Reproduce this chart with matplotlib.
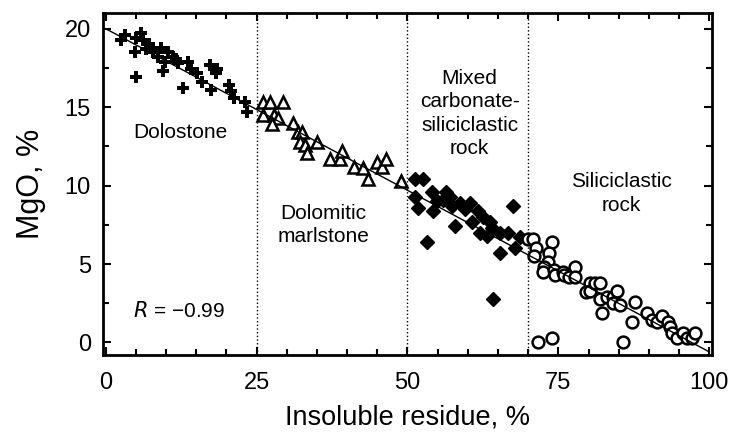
import matplotlib.pyplot as plt
from matplotlib.ticker import MultipleLocator

plt.rcParams['font.family'] = ['Liberation Sans', 'DejaVu Sans']

# Dolostone (+)
dolo_x = [3.2, 2.6, 5.9, 5.0, 6.2, 4.9, 6.7, 7.8, 9.1, 10.3, 8.6, 9.8, 11.1, 9.5,
          5.0, 11.9, 13.6, 14.1, 12.8, 15.2, 16.0, 17.2, 18.2, 17.4, 18.5, 20.5,
          20.7, 21.3, 23.1, 23.4, 7.1, 11.6]
dolo_y = [19.6, 19.3, 19.7, 19.4, 19.3, 18.5, 18.7, 18.5, 18.8, 18.5, 18.2, 17.9,
          18.2, 17.3, 16.9, 17.8, 17.9, 17.4, 16.2, 17.2, 16.6, 17.7, 17.2, 16.1,
          17.4, 16.4, 16.0, 15.6, 15.3, 14.7, 19.0, 18.1]

# Dolomitic marlstone (open triangles)
marl_x = [26.1, 27.3, 29.4, 26.1, 27.8, 28.6, 27.6, 31.0, 31.9, 32.5, 32.2, 33.0,
          33.4, 35.0, 37.1, 38.8, 39.1, 41.2, 42.6, 43.4, 44.9, 45.7, 46.5, 49.0]
marl_y = [15.3, 15.3, 15.3, 14.5, 14.5, 14.3, 13.9, 14.0, 13.4, 13.4, 12.8, 12.6,
          12.1, 12.8, 11.7, 11.7, 12.2, 11.2, 11.1, 10.4, 11.5, 11.2, 11.7, 10.3]

# Mixed carbonate-siliciclastic rock (filled diamonds)
mix_x = [51.3, 52.5, 51.3, 51.8, 54.1, 54.3, 55.8, 57.1, 57.4, 58.7, 57.9, 60.4,
         60.7, 61.7, 62.5, 62.0, 63.2, 64.0, 65.3, 66.6, 65.3, 67.8, 67.4, 53.3,
         64.1, 54.9, 56.3, 59.5, 63.7, 68.6]
mix_y = [10.4, 10.4, 9.3, 8.6, 9.6, 8.4, 9.1, 9.3, 8.7, 8.9, 7.4, 8.9,
         7.7, 8.4, 8.0, 7.0, 6.8, 7.3, 7.0, 7.0, 5.7, 6.0, 8.7, 6.4,
         2.8, 9.0, 9.6, 8.5, 7.7, 6.7]

# Siliciclastic rock (open circles)
sili_x = [69.9, 70.8, 71.3, 70.9, 74.0, 73.4, 73.2, 72.6, 72.4, 74.2, 74.5, 75.7,
          75.9, 76.7, 77.8, 77.8, 79.5, 80.3, 80.3, 81.1, 81.9, 81.9, 83.1, 82.3,
          84.1, 84.1, 84.7, 85.2, 87.7, 87.2, 89.7, 90.5, 91.3, 92.1, 93.1, 93.5,
          93.8, 94.6, 95.6, 96.3, 97.2, 97.6, 71.6, 74.0, 85.7]
sili_y = [6.6, 6.6, 6.0, 5.5, 6.4, 5.7, 5.1, 4.8, 4.5, 4.6, 4.3, 4.5,
          4.3, 4.2, 4.8, 4.2, 3.2, 3.8, 3.3, 3.8, 3.8, 2.8, 2.9, 1.9,
          2.9, 2.5, 3.3, 2.4, 2.6, 1.3, 1.9, 1.4, 1.3, 1.7, 1.3, 1.0,
          0.6, 0.3, 0.6, 0.3, 0.3, 0.6, 0.0, 0.3, 0.0]

# regression line and class boundaries
fit_x = [0, 100]
fit_y = [20.0, -0.6]
bounds = [25, 50, 70]


def main():
    fig = plt.figure(figsize=(7.31, 4.34), dpi=100)
    ax = fig.add_axes([0.1413, 0.182, 0.8323, 0.788])

    for b in bounds:
        ax.axvline(b, color='black', linestyle=':', linewidth=1)

    ax.plot(dolo_x, dolo_y, 'P', color='black', markersize=9,
            markeredgewidth=0, linestyle='none', zorder=3)
    ax.plot(marl_x, marl_y, '^', markerfacecolor='white', markeredgecolor='black',
            markersize=9, markeredgewidth=1.8, linestyle='none', zorder=3)
    ax.plot(mix_x, mix_y, 'D', color='black', markersize=7.3,
            linestyle='none', zorder=3)
    ax.plot(sili_x, sili_y, 'o', markerfacecolor='white', markeredgecolor='black',
            markersize=8.5, markeredgewidth=1.8, linestyle='none', zorder=3)
    ax.plot(fit_x, fit_y, color='black', linewidth=1, zorder=4)

    fs = 15
    ax.text(12.3, 13.4, 'Dolostone', fontsize=fs, ha='center', va='center')
    ax.text(36.1, 7.5, 'Dolomitic\nmarlstone', fontsize=fs, ha='center',
            va='center', linespacing=1.25)
    ax.text(60.3, 14.6, 'Mixed\ncarbonate-\nsiliciclastic\nrock', fontsize=fs,
            ha='center', va='center', linespacing=1.3)
    ax.text(85.5, 9.5, 'Siliciclastic\nrock', fontsize=fs, ha='center',
            va='center', linespacing=1.3)
    ax.text(4.5, 2.0, '$R$ = \u22120.99', fontsize=fs, ha='left', va='center')

    ax.set_xlim(-0.4, 100.4)
    ax.set_ylim(-0.8, 21)
    ax.set_xticks([0, 25, 50, 75, 100])
    ax.set_yticks([0, 5, 10, 15, 20])
    ax.xaxis.set_minor_locator(MultipleLocator(5))
    ax.yaxis.set_minor_locator(MultipleLocator(2.5))
    ax.tick_params(which='both', direction='in', top=True, right=True,
                   width=1.5, labelsize=17)
    ax.tick_params(which='major', length=6)
    ax.tick_params(which='minor', length=4)
    ax.tick_params(axis='x', which='major', pad=12)
    ax.tick_params(axis='y', which='major', pad=9)
    for s in ax.spines.values():
        s.set_linewidth(2)

    ax.set_xlabel('Insoluble residue, %', fontsize=19.5, labelpad=8)
    ax.set_ylabel('MgO, %', fontsize=22, labelpad=13)

    plt.savefig('out.png')


if __name__ == "__main__":
    main()
